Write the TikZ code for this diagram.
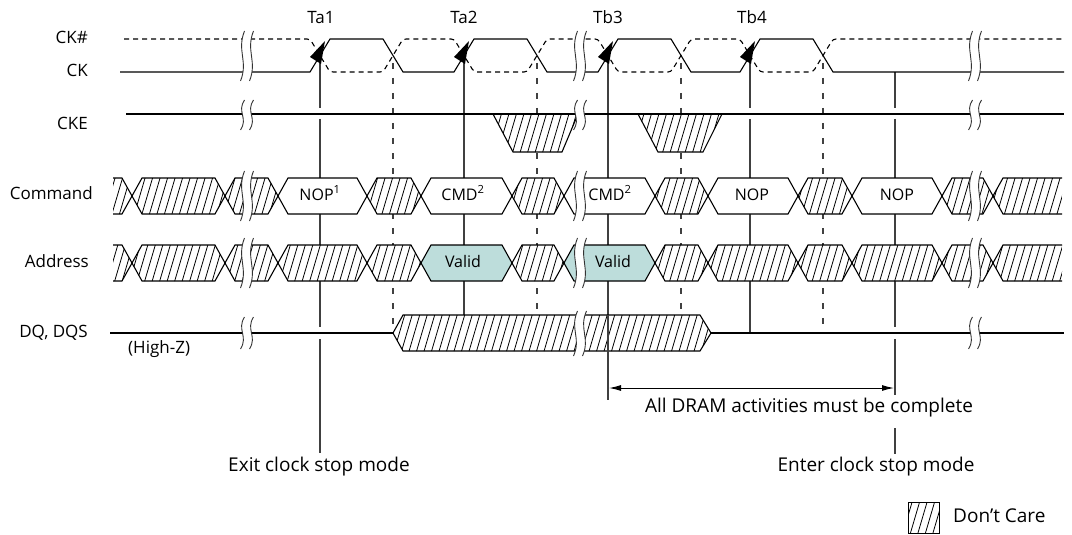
\documentclass[tikz,border=0pt]{standalone}
\usepackage{fontspec}
\setmainfont{Open Sans}
\usetikzlibrary{arrows.meta}
\definecolor{validfill}{RGB}{189,221,219}
% hexagon segment between crossing points #1 and #2, centre line #3
\newcommand\hexp[3]{(#1,#3) -- ({#1+10},{#3-18}) -- ({#2-10},{#3-18}) -- (#2,#3) -- ({#2-10},{#3+18}) -- ({#1+10},{#3+18}) -- cycle}
% open left end (113 .. 132)
\newcommand\hexl[1]{(113,{#1-18}) -- (122,{#1-18}) -- (132,#1) -- (122,{#1+18}) -- (113,{#1+18})}
% open right end (993 .. 1062)
\newcommand\hexr[1]{(1062,{#1-18}) -- (1003,{#1-18}) -- (993,#1) -- (1003,{#1+18}) -- (1062,{#1+18})}
% break mark: x, top, bottom
\newcommand\brkmark[3]{%
  \pgfmathsetmacro\brkA{#2+0.4*(#3-#2)}%
  \pgfmathsetmacro\brkB{#2+0.6*(#3-#2)}%
  \fill[white] ({#1-2.5},#2) .. controls ({#1-10.5},\brkA) and ({#1+1.5},\brkB) .. ({#1-6.5},#3)
     -- ({#1+2.5},#3) .. controls ({#1+10.5},\brkB) and ({#1-1.5},\brkA) .. ({#1+6.5},#2) -- cycle;
  \draw[wave] ({#1-2.5},#2) .. controls ({#1-10.5},\brkA) and ({#1+1.5},\brkB) .. ({#1-6.5},#3);
  \draw[wave] ({#1+6.5},#2) .. controls ({#1-1.5},\brkA) and ({#1+10.5},\brkB) .. ({#1+2.5},#3);
}
\newcommand\tarrow[1]{\fill[black] ({#1+5},41) -- ({#1-10},57) -- ({#1+1},64) -- cycle;}
\begin{document}
\begin{tikzpicture}[x=1pt,y=-1pt,
  sig/.style={line width=1.1pt, line join=miter},
  ckn/.style={line width=1.1pt, dash pattern=on 5pt off 4pt, rounded corners=3pt},
  tline/.style={line width=1.3pt, black!75},
  dline/.style={line width=1.2pt, black!75, dash pattern=on 6pt off 9pt},
  hatchline/.style={line width=0.8pt},
  lbl/.style={font=\fontsize{17}{20}\selectfont, inner sep=0pt, text=black},
  boxlbl/.style={font=\fontsize{16}{19}\selectfont, inner sep=0pt, text=black},
  bigl/.style={font=\fontsize{19}{22}\selectfont, inner sep=0pt, text=black},
  wave/.style={line width=0.9pt, black!80}]
\useasboundingbox (0,0) rectangle (1072,535);

% ---- signal names
\node[lbl, anchor=mid east] (lckn) at (88,40.5) {CK\#};
\node[lbl, anchor=mid east] (lck) at (88,73.5) {CK};
\node[lbl, anchor=mid east] (lcke) at (88,126.5) {CKE};
\node[lbl, anchor=mid east] (lcmd) at (93,197) {Command};
\node[lbl, anchor=mid east] (ladr) at (89,264.5) {Address};
\node[lbl, anchor=mid east] (ldq) at (88,334.5) {DQ, DQS};
\node[lbl, anchor=mid west] (lhz) at (128,351) {(High-Z)};

% ---- clock edge names
\node[lbl, anchor=mid] (ta1) at (321,20.5) {Ta1};
\node[lbl, anchor=mid] (ta2) at (464,20.5) {Ta2};
\node[lbl, anchor=mid] (tb3) at (608,20.5) {Tb3};
\node[lbl, anchor=mid] (tb4) at (752,20.5) {Tb4};

% ---- vertical reference lines
\draw[tline] (320,60) -- (320,108) (320,119) -- (320,327) (320,339) -- (320,453);
\draw[tline] (464,60) -- (464,315);
\draw[tline] (608,60) -- (608,315);
\draw[tline] (750,60) -- (750,108) (750,119) -- (750,333);
\draw[tline] (895,72) -- (895,108) (895,119) -- (895,327) (895,339) -- (895,395) (895,428) -- (895,454);
\draw[dline] (393,63) -- (393,333);
\draw[dline] (537,63) -- (537,315);
\draw[dline] (681,63) -- (681,315);
\draw[dline] (823,63) -- (823,333);

% ---- bus fills
\fill[white] \hexl{196} -- cycle \hexp{132}{225}{196} \hexp{225}{278}{196} \hexp{278}{367}{196}
  \hexp{367}{421}{196} \hexp{421}{512}{196} \hexp{512}{564}{196} \hexp{564}{655}{196}
  \hexp{655}{708}{196} \hexp{708}{798}{196} \hexp{798}{852}{196} \hexp{852}{942}{196}
  \hexp{942}{993}{196} \hexr{196} -- cycle;
\fill[white] \hexl{263} -- cycle \hexp{132}{225}{263} \hexp{225}{278}{263} \hexp{278}{367}{263}
  \hexp{367}{421}{263} \hexp{512}{564}{263}
  \hexp{655}{708}{263} \hexp{708}{798}{263} \hexp{798}{852}{263} \hexp{852}{942}{263}
  \hexp{942}{993}{263} \hexr{263} -- cycle;
\fill[validfill] \hexp{421}{512}{263} \hexp{564}{655}{263};
\fill[white] (393,333) -- (403,315) -- (700,315) -- (711,333) -- (700,351) -- (403,351) -- cycle;
\fill[white] (493,114) -- (578,114) -- (562,152) -- (513,152) -- cycle;
\fill[white] (638,114) -- (722,114) -- (703,152) -- (658,152) -- cycle;

% ---- hatching (don't care)
\begin{scope}
\clip \hexl{196} -- cycle \hexp{132}{225}{196} \hexp{225}{278}{196}
  \hexp{367}{421}{196} \hexp{512}{564}{196} \hexp{655}{708}{196} \hexp{798}{852}{196}
  \hexp{942}{993}{196} \hexr{196} -- cycle
  \hexl{263} -- cycle \hexp{132}{225}{263} \hexp{225}{278}{263} \hexp{278}{367}{263}
  \hexp{367}{421}{263} \hexp{512}{564}{263}
  \hexp{655}{708}{263} \hexp{708}{798}{263} \hexp{798}{852}{263} \hexp{852}{942}{263}
  \hexp{942}{993}{263} \hexr{263} -- cycle
  (393,333) -- (403,315) -- (700,315) -- (711,333) -- (700,351) -- (403,351) -- cycle
  (493,114) -- (578,114) -- (562,152) -- (513,152) -- cycle
  (638,114) -- (722,114) -- (703,152) -- (658,152) -- cycle
  (908,502) rectangle (939,533);
\foreach \s in {-170,-162.5,...,1080} \draw[hatchline] (\s,560) -- ++(165,-560);
\end{scope}

% ---- bus outlines
\draw[sig] \hexl{196} \hexp{132}{225}{196} \hexp{225}{278}{196} \hexp{278}{367}{196}
  \hexp{367}{421}{196} \hexp{421}{512}{196} \hexp{512}{564}{196} \hexp{564}{655}{196}
  \hexp{655}{708}{196} \hexp{708}{798}{196} \hexp{798}{852}{196} \hexp{852}{942}{196}
  \hexp{942}{993}{196} \hexr{196};
\draw[sig] \hexl{263} \hexp{132}{225}{263} \hexp{225}{278}{263} \hexp{278}{367}{263}
  \hexp{367}{421}{263} \hexp{421}{512}{263} \hexp{512}{564}{263} \hexp{564}{655}{263}
  \hexp{655}{708}{263} \hexp{708}{798}{263} \hexp{798}{852}{263} \hexp{852}{942}{263}
  \hexp{942}{993}{263} \hexr{263};
\draw[sig] (393,333) -- (403,315) -- (700,315) -- (711,333) -- (700,351) -- (403,351) -- cycle;
\draw[sig] (493,114) -- (513,152) -- (562,152) -- (578,114);
\draw[sig] (638,114) -- (658,152) -- (703,152) -- (722,114);
\draw[tline] (608,315) -- (608,400);

% ---- clocks, CKE, DQ
\draw[sig] (120,72) -- (310,72) -- (330,39) -- (383,39) -- (403,72) -- (454,72) -- (474,39)
  -- (527,39) -- (547,72) -- (598,72) -- (618,39) -- (671,39) -- (691,72) -- (740,72)
  -- (760,39) -- (813,39) -- (833,72) -- (1064,72);
\draw[ckn] (124,39) -- (310,39) -- (330,72) -- (383,72) -- (403,39) -- (454,39) -- (474,72)
  -- (527,72) -- (547,39) -- (598,39) -- (618,72) -- (671,72) -- (691,39) -- (740,39)
  -- (760,72) -- (813,72) -- (833,39) -- (1064,39);
\draw[sig] (126,114) -- (1064,114);
\draw[sig] (110,333) -- (393,333) (711,333) -- (1064,333);

% ---- clock-edge arrows
\tarrow{320}
\tarrow{464}
\tarrow{608}
\tarrow{750}

% ---- breaks
\foreach \bx in {247,580,975} {
  \brkmark{\bx}{31}{81}
  \brkmark{\bx}{100}{130}
  \brkmark{\bx}{171}{221}
  \brkmark{\bx}{238}{288}
}
\brkmark{247}{317}{349}
\brkmark{580}{311}{356}
\brkmark{975}{317}{349}

% ---- bus labels
\node[boxlbl, anchor=mid] (nop1) at (320,197.5) {NOP\textsuperscript{1}};
\node[boxlbl, anchor=mid] (cmd1) at (463,197.5) {CMD\textsuperscript{2}};
\node[boxlbl, anchor=mid] (cmd2) at (610,197.5) {CMD\textsuperscript{2}};
\node[boxlbl, anchor=mid] (nop2) at (752,197.5) {NOP};
\node[boxlbl, anchor=mid] (nop3) at (897,197.5) {NOP};
\node[boxlbl, anchor=mid] (val1) at (463,264.5) {Valid};
\node[boxlbl, anchor=mid] (val2) at (613,264.5) {Valid};

% ---- timing annotation
\coordinate (dimL) at (609,388);
\coordinate (dimR) at (894,388);
\draw[line width=1pt, {Latex[length=12pt,width=6pt]}-{Latex[length=12pt,width=6pt]}] (dimL) -- (dimR);
\node[bigl, anchor=mid] (alll) at (809,409.5) {All DRAM activities must be complete};
\node[bigl, anchor=mid] (exitl) at (319,468.5) {Exit clock stop mode};
\node[bigl, anchor=mid] (enterl) at (876,468.5) {Enter clock stop mode};

% ---- legend
\draw[line width=1pt] (908,502) rectangle (939,533);
\node[bigl, anchor=mid west] (dcl) at (953,520) {Don’t Care};
\end{tikzpicture}
\end{document}
